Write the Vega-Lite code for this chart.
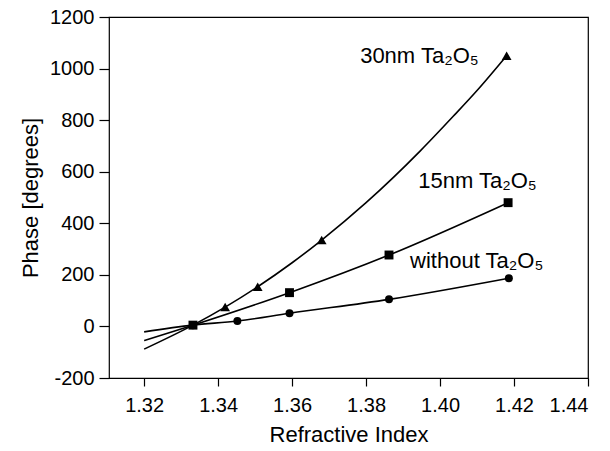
{
  "$schema": "https://vega.github.io/schema/vega-lite/v6.json",
  "autosize": {"type": "none"},
  "padding": {"left": 109, "top": 17, "right": 22, "bottom": 73},
  "width": 479,
  "height": 361,
  "background": "white",
  "config": {
    "view": {"stroke": "black", "strokeWidth": 1.2},
    "font": "Liberation Sans",
    "axis": {
      "grid": false,
      "domain": false,
      "tickColor": "black",
      "tickWidth": 1.2,
      "labelColor": "black",
      "titleColor": "black",
      "labelFont": "Liberation Sans",
      "titleFont": "Liberation Sans",
      "labelFontSize": 20,
      "titleFontSize": 22,
      "titleFontWeight": "normal"
    }
  },
  "datasets": {
    "curves": [
      {"series": "30nm", "x": 1.32, "y": -88},
      {"series": "30nm", "x": 1.3332, "y": 5},
      {"series": "30nm", "x": 1.3419, "y": 75},
      {"series": "30nm", "x": 1.3507, "y": 154},
      {"series": "30nm", "x": 1.36, "y": 247},
      {"series": "30nm", "x": 1.368, "y": 335},
      {"series": "30nm", "x": 1.38, "y": 480},
      {"series": "30nm", "x": 1.3946, "y": 680},
      {"series": "30nm", "x": 1.4035, "y": 814},
      {"series": "30nm", "x": 1.41, "y": 915},
      {"series": "30nm", "x": 1.418, "y": 1050},
      {"series": "15nm", "x": 1.32, "y": -55},
      {"series": "15nm", "x": 1.3332, "y": 5},
      {"series": "15nm", "x": 1.3593, "y": 131},
      {"series": "15nm", "x": 1.3862, "y": 277},
      {"series": "15nm", "x": 1.4184, "y": 480},
      {"series": "without", "x": 1.32, "y": -21},
      {"series": "without", "x": 1.3332, "y": 5},
      {"series": "without", "x": 1.3452, "y": 21},
      {"series": "without", "x": 1.3593, "y": 51},
      {"series": "without", "x": 1.3862, "y": 105},
      {"series": "without", "x": 1.4186, "y": 187}
    ],
    "points": [
      {"series": "30nm", "x": 1.3419, "y": 75},
      {"series": "30nm", "x": 1.3507, "y": 154},
      {"series": "30nm", "x": 1.368, "y": 335},
      {"series": "30nm", "x": 1.418, "y": 1050},
      {"series": "15nm", "x": 1.3332, "y": 5},
      {"series": "15nm", "x": 1.3593, "y": 131},
      {"series": "15nm", "x": 1.3862, "y": 277},
      {"series": "15nm", "x": 1.4184, "y": 480},
      {"series": "without", "x": 1.3332, "y": 5},
      {"series": "without", "x": 1.3452, "y": 21},
      {"series": "without", "x": 1.3593, "y": 51},
      {"series": "without", "x": 1.3862, "y": 105},
      {"series": "without", "x": 1.4186, "y": 187}
    ],
    "labels": [
      {"text": "30nm Ta₂O₅", "x": 1.3784, "y": 1050},
      {"text": "15nm Ta₂O₅", "x": 1.3941, "y": 565},
      {"text": "without Ta₂O₅", "x": 1.3919, "y": 253}
    ]
  },
  "layer": [
    {
      "data": {"name": "curves"},
      "mark": {"type": "line", "color": "black", "strokeWidth": 1.6, "interpolate": "monotone", "clip": true},
      "encoding": {
        "x": {"field": "x", "type": "quantitative", "scale": {"domain": [1.3105, 1.44], "nice": false, "zero": false},
          "axis": {"title": "Refractive Index", "values": [1.32, 1.34, 1.36, 1.38, 1.4, 1.42, 1.44], "format": ".2f", "tickSize": 8, "labelPadding": 9, "titlePadding": 9}},
        "y": {"field": "y", "type": "quantitative", "scale": {"domain": [-200, 1200], "nice": false},
          "axis": {"title": "Phase [degrees]", "values": [-200, 0, 200, 400, 600, 800, 1000, 1200], "labelExpr": "'' + datum.value", "tickSize": 10, "labelPadding": 5, "titlePadding": 7}},
        "detail": {"field": "series"},
        "order": {"field": "x", "type": "quantitative"}
      }
    },
    {
      "data": {"name": "points"},
      "mark": {"type": "point", "filled": true, "color": "black", "opacity": 1},
      "encoding": {
        "x": {"field": "x", "type": "quantitative"},
        "y": {"field": "y", "type": "quantitative"},
        "shape": {"field": "series", "type": "nominal", "scale": {"domain": ["30nm", "15nm", "without"], "range": ["triangle-up", "square", "circle"]}, "legend": null},
        "size": {"field": "series", "type": "nominal", "scale": {"domain": ["30nm", "15nm", "without"], "range": [95, 64, 85]}, "legend": null}
      }
    },
    {
      "data": {"name": "labels"},
      "mark": {"type": "text", "align": "left", "baseline": "middle", "fontSize": 22, "font": "Liberation Sans", "color": "black"},
      "encoding": {
        "x": {"field": "x", "type": "quantitative"},
        "y": {"field": "y", "type": "quantitative"},
        "text": {"field": "text"}
      }
    }
  ]
}
